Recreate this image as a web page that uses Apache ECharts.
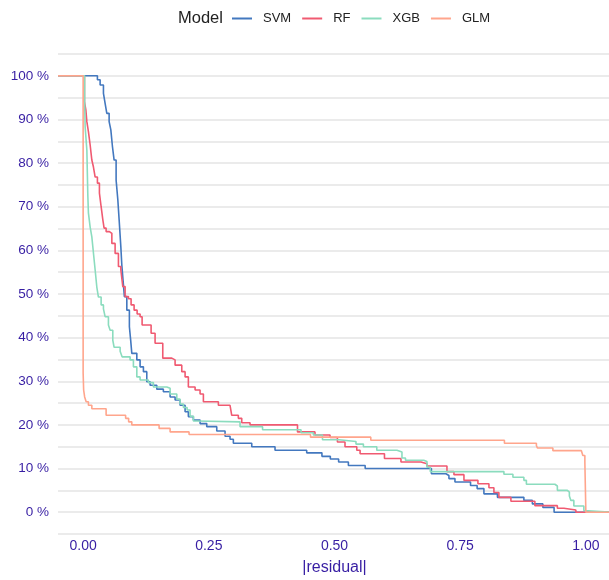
<!DOCTYPE html>
<html>
<head>
<meta charset="utf-8">
<title>residual</title>
<script src="https://cdn.jsdelivr.net/npm/echarts@6/dist/echarts.min.js"></script>
<style>
  html, body { margin: 0; padding: 0; background: #fff; }
  #main { width: 609px; height: 580px; }
</style>
</head>
<body>
<div id="main"></div>
<script>
//模型名称
var models = ['SVM', 'RF', 'XGB', 'GLM'];
var colors = ['#4378bf', '#f05a71', '#8bdcbe', '#ffa58c'];

//刻度
var xTicks = [0, 0.25, 0.5, 0.75, 1];
var yTicks = [0, 0.1, 0.2, 0.3, 0.4, 0.5, 0.6, 0.7, 0.8, 0.9, 1];

//[|residual|, 比例]
var svm = [[-0.05,1],[0.0205,1],[0.0284,0.991],[0.0338,0.979],[0.0404,0.960],[0.0437,0.937],[0.0471,0.914],[0.0517,0.895],[0.0551,0.876],[0.0583,0.838],[0.0616,0.807],[0.0656,0.761],[0.069,0.716],[0.0716,0.670],[0.075,0.608],[0.0769,0.567],[0.0795,0.530],[0.0821,0.494],[0.0869,0.463],[0.092,0.425],[0.0945,0.395],[0.0968,0.364],[0.1068,0.349],[0.1133,0.333],[0.1199,0.322],[0.1266,0.299],[0.1332,0.291],[0.1465,0.282],[0.1596,0.276],[0.173,0.264],[0.1829,0.257],[0.1928,0.245],[0.2028,0.230],[0.2093,0.219],[0.2193,0.211],[0.2326,0.203],[0.2459,0.196],[0.2658,0.186],[0.2823,0.174],[0.2922,0.167],[0.2988,0.158],[0.3354,0.150],[0.3817,0.142],[0.4447,0.136],[0.475,0.128],[0.4917,0.122],[0.5082,0.115],[0.5276,0.107],[0.561,0.100],[0.6928,0.088],[0.7217,0.084],[0.7276,0.077],[0.7396,0.069],[0.7706,0.061],[0.7837,0.054],[0.7972,0.042],[0.8241,0.034],[0.8767,0.027],[0.8936,0.019],[0.9145,0.011],[0.9368,0],[1.05,0]];

var rf = [[-0.05,1],[0.0026,0.941],[0.0054,0.922],[0.0074,0.895],[0.0105,0.872],[0.0139,0.842],[0.0173,0.807],[0.0205,0.791],[0.0239,0.768],[0.0284,0.754],[0.0324,0.731],[0.0358,0.700],[0.0392,0.670],[0.0417,0.651],[0.0457,0.643],[0.0523,0.639],[0.0571,0.616],[0.0636,0.593],[0.0702,0.563],[0.075,0.555],[0.0789,0.517],[0.0835,0.494],[0.0901,0.489],[0.0954,0.475],[0.1014,0.463],[0.1074,0.454],[0.1133,0.448],[0.1173,0.429],[0.1352,0.410],[0.1431,0.387],[0.1584,0.353],[0.1763,0.349],[0.1829,0.337],[0.1962,0.322],[0.2028,0.310],[0.2093,0.287],[0.2227,0.280],[0.2326,0.271],[0.2392,0.253],[0.269,0.245],[0.2922,0.242],[0.2956,0.222],[0.3087,0.215],[0.3155,0.205],[0.332,0.200],[0.4264,0.184],[0.4612,0.177],[0.4911,0.171],[0.5058,0.161],[0.5209,0.150],[0.5443,0.142],[0.5509,0.134],[0.5994,0.123],[0.6322,0.115],[0.672,0.111],[0.6839,0.106],[0.7237,0.093],[0.7376,0.086],[0.7575,0.073],[0.7853,0.065],[0.8072,0.056],[0.8171,0.045],[0.827,0.034],[0.8509,0.025],[0.8986,0.015],[0.9433,0.009],[0.9563,0.005],[0.9801,0],[1.05,0]];

var xgb = [[-0.05,1],[0.003,0.94],[0.004,0.883],[0.0074,0.830],[0.0093,0.727],[0.0105,0.686],[0.0139,0.654],[0.0173,0.631],[0.0205,0.594],[0.0239,0.555],[0.0272,0.516],[0.0304,0.493],[0.0358,0.475],[0.0404,0.466],[0.0437,0.448],[0.0503,0.429],[0.0537,0.417],[0.059,0.394],[0.0616,0.378],[0.0736,0.369],[0.0775,0.356],[0.0934,0.349],[0.1,0.333],[0.1068,0.310],[0.1133,0.303],[0.1298,0.297],[0.1398,0.287],[0.1664,0.284],[0.173,0.271],[0.1863,0.259],[0.1928,0.248],[0.1994,0.240],[0.2068,0.234],[0.2127,0.220],[0.2193,0.209],[0.226,0.207],[0.3121,0.196],[0.3569,0.189],[0.4334,0.182],[0.4579,0.177],[0.4761,0.166],[0.5089,0.162],[0.5427,0.156],[0.5575,0.150],[0.5841,0.142],[0.6243,0.138],[0.6342,0.124],[0.6412,0.119],[0.6775,0.116],[0.6839,0.103],[0.6905,0.093],[0.837,0.087],[0.8549,0.080],[0.8767,0.073],[0.8817,0.064],[0.9384,0.060],[0.9433,0.050],[0.9632,0.046],[0.9672,0.037],[0.9702,0.027],[0.9761,0.014],[0.996,0.004],[0.9998,0],[1.05,0]];

var glm = [[-0.05,1],[0,0.319],[0.001,0.280],[0.003,0.264],[0.006,0.253],[0.0105,0.245],[0.0173,0.237],[0.0457,0.222],[0.0845,0.215],[0.0905,0.207],[0.0968,0.200],[0.1511,0.192],[0.173,0.184],[0.2107,0.178],[0.4523,0.172],[0.5722,0.165],[0.838,0.158],[0.9016,0.153],[0.9036,0.147],[0.9344,0.141],[0.9911,0.138],[0.994,0.130],[0.998,0.115],[1,0],[1.05,0]];

var seriesData = [svm, rf, xgb, glm];

var chart = echarts.init(document.getElementById('main'));
var font = 'Liberation Sans, Arial, sans-serif';
var axisColor = '#371ea3';

var option = {
  animation: false
  ,color: colors
  ,textStyle: {fontFamily: font}
  ,title: {
    text: 'Model'
    ,left: 173
    ,top: 5
    ,textStyle: {fontSize: 16.5, fontWeight: 'normal', color: '#222', fontFamily: font}
  }
  ,legend: {
    data: models
    ,left: 227
    ,top: 7
    ,icon: 'rect'
    ,itemWidth: 20
    ,itemHeight: 2
    ,itemGap: 11
    ,textStyle: {fontSize: 13, color: '#222', padding: [0, 0, 0, 6], fontFamily: font}
  }
  //网格超出画布右侧，不让它自动收缩
  ,grid: {left: 58, top: 54, width: 553, height: 480, containLabel: false, outerBoundsMode: 'none'}
  ,xAxis: {
    type: 'value'
    ,min: -0.05
    ,max: 1.05
    ,name: '|residual|'
    ,nameLocation: 'middle'
    ,nameGap: 26
    ,nameTextStyle: {color: axisColor, fontSize: 16, fontFamily: font}
    ,axisLine: {show: false}
    ,axisTick: {show: false}
    ,splitLine: {show: false}
    ,axisLabel: {
      customValues: xTicks
      ,color: axisColor
      ,fontSize: 14
      ,margin: 5
      ,fontFamily: font
      ,formatter: function(v){ return v.toFixed(2); }
    }
  }
  ,yAxis: {
    type: 'value'
    ,min: -0.05
    ,max: 1.05
    ,interval: 0.05
    ,axisLine: {show: false}
    ,axisTick: {show: false}
    ,splitLine: {show: true, lineStyle: {color: '#e5e5e5', width: 1.5}}
    ,axisLabel: {
      customValues: yTicks
      ,color: axisColor
      ,fontSize: 13.5
      ,margin: 9
      ,fontFamily: font
      ,formatter: function(v){ return Math.round(v * 100) + ' %'; }
    }
  }
  ,series: models.map(function(name, i){
    return {
      name: name
      ,type: 'line'
      ,step: 'end'
      ,showSymbol: false
      ,symbol: 'none'
      ,data: seriesData[i]
      ,lineStyle: {width: 1.6, color: colors[i]}
      ,itemStyle: {color: colors[i]}
    };
  })
};

chart.setOption(option);
</script>
</body>
</html>
